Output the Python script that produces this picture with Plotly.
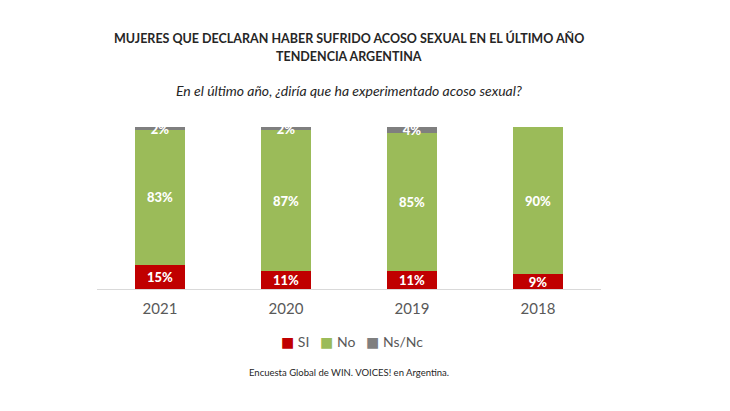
import plotly.graph_objects as go

years = ["2021", "2020", "2019", "2018"]
si = [15, 11, 11, 9]
no = [83, 87, 85, 90]
nsnc = [2, 2, 4, None]

series_names = ["SI", "No", "Ns/Nc"]
series_colors = ["#C00000", "#9BBB59", "#7F7F7F"]

def labels(vals):
    return [f"{v}%" if v else "" for v in vals]

fig = go.Figure()
for name, color, vals in zip(series_names, series_colors, [si, no, nsnc]):
    fig.add_trace(go.Bar(
        x=years, y=vals, name=name,
        marker=dict(color=color, line=dict(width=0)),
        text=labels(vals), textposition="inside", insidetextanchor="middle",
        textangle=0,
        textfont=dict(color="white", size=13, family="Lato Black, Lato, sans-serif"),
        constraintext="none",
        hoverinfo="skip",
    ))

# legend drawn as a single line of text built from the series names/colours
legend_text = "&nbsp;&nbsp;&nbsp;".join(
    f"<span style='color:{c}; font-family:DejaVu Sans'>■</span> {n}"
    for n, c in zip(series_names, series_colors)
)

fig.update_layout(
    barmode="stack", barnorm="percent",
    bargap=0.6,
    width=730, height=411,
    margin=dict(l=97, r=129, t=127, b=122),
    paper_bgcolor="white", plot_bgcolor="white",
    uniformtext=dict(minsize=13, mode="show"),
    font=dict(family="Lato, sans-serif", color="#595959"),
    showlegend=False,
    xaxis=dict(showline=True, linecolor="#D9D9D9", linewidth=1, ticks="",
               tickfont=dict(size=15, color="#595959"), showgrid=False, ticklabelstandoff=6),
    yaxis=dict(range=[0, 100], visible=False, showgrid=False),
    annotations=[
        dict(text="<b>MUJERES QUE DECLARAN HABER SUFRIDO ACOSO SEXUAL EN EL ÚLTIMO AÑO</b>",
             x=0.5, y=38, xref="paper", yref="paper", showarrow=False,
             font=dict(size=12.5, color="#262626")),
        dict(text="<b>TENDENCIA ARGENTINA</b>",
             x=0.5, y=56, xref="paper", yref="paper", showarrow=False,
             font=dict(size=12.5, color="#262626")),
        dict(text="<i>En el último año, ¿diría que ha experimentado acoso sexual?</i>",
             x=0.5, y=90, xref="paper", yref="paper", showarrow=False,
             font=dict(size=14, color="#262626")),
        dict(text=legend_text,
             x=0.505, y=341, xref="paper", yref="paper", showarrow=False,
             font=dict(size=14, color="#595959")),
        dict(text="Encuesta Global de WIN. VOICES! en Argentina.",
             x=0.5, y=372, xref="paper", yref="paper", showarrow=False,
             font=dict(size=9.5, color="#262626")),
    ],
)

# convert pixel y positions of annotations to paper coordinates
plot_top, plot_bottom = 127, 289
for a in fig.layout.annotations:
    a.y = (plot_bottom - a.y) / (plot_bottom - plot_top)
    a.yanchor = "middle"

fig.write_html("out.html")
